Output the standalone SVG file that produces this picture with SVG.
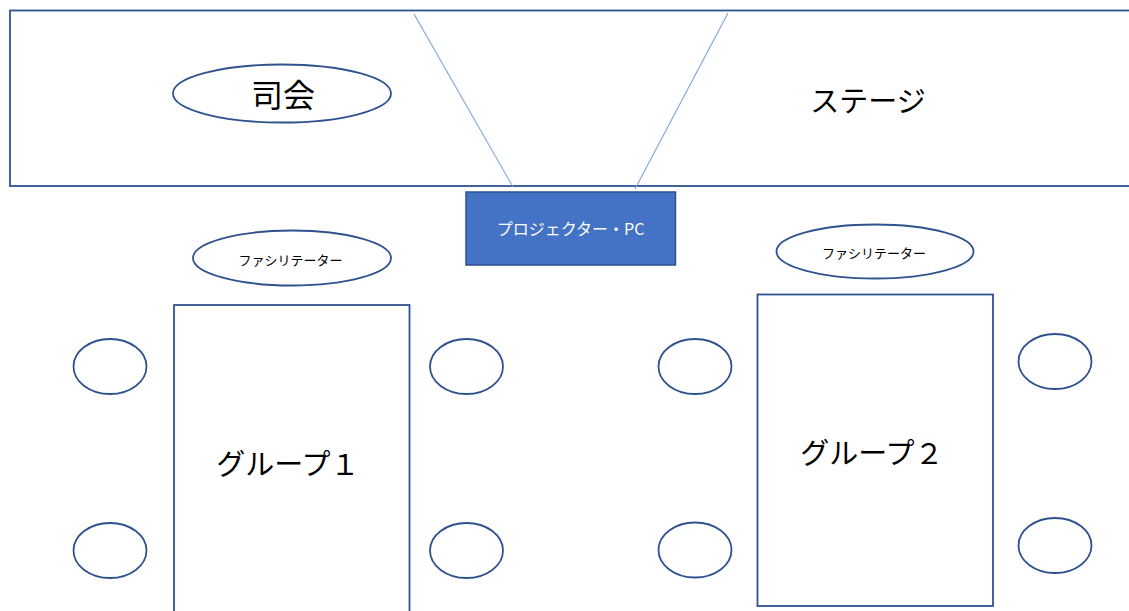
<svg xmlns="http://www.w3.org/2000/svg" width="1129" height="611" viewBox="0 0 1129 611">
<style>
.ol{fill:#fff;stroke:#2F528F;stroke-width:1.8}
.seat{fill:#fff;stroke:#2F528F;stroke-width:1.8}
.t{font-family:"Noto Sans CJK JP","Noto Sans",sans-serif;fill:#000;text-anchor:middle;dominant-baseline:central}
.proj{stroke:#7FA2DC;stroke-width:1.1;fill:none}
</style>
<rect width="1129" height="611" fill="#fff"/>
<g id="stage">
<rect class="ol" x="10" y="10.5" width="1130" height="175.5"/>
<text class="t" x="868" y="99" font-size="29">ステージ</text>
</g>
<g id="connectors">
<line class="proj" x1="414" y1="14" x2="513" y2="187"/>
<line class="proj" x1="728" y1="13" x2="635" y2="189"/>
</g>
<g id="mc">
<ellipse class="ol" cx="282" cy="93.5" rx="109" ry="29"/>
<text class="t" x="283" y="93" font-size="32">司会</text>
</g>
<g id="projector">
<rect x="466" y="192" width="209.5" height="73" fill="#4472C4" stroke="#2F528F" stroke-width="1.5"/>
<text class="t" x="570.5" y="227.5" font-size="16" fill="#fff" style="fill:#fff">プロジェクター・PC</text>
</g>
<g id="facilitator1">
<ellipse class="ol" cx="292" cy="258" rx="99" ry="27.5"/>
<text class="t" x="290.5" y="259" font-size="13">ファシリテーター</text>
</g>
<g id="facilitator2">
<ellipse class="ol" cx="875" cy="251.5" rx="98.5" ry="27"/>
<text class="t" x="874" y="252.5" font-size="13">ファシリテーター</text>
</g>
<g id="group1">
<rect class="ol" x="174" y="305" width="235.5" height="330"/>
<text class="t" x="288" y="462" font-size="29">グループ１</text>
</g>
<g id="group2">
<rect class="ol" x="757.5" y="294.5" width="235.5" height="311.5"/>
<text class="t" x="872" y="451" font-size="29">グループ２</text>
</g>
<g id="seats1">
<ellipse class="seat" cx="110" cy="366.5" rx="36.5" ry="27.5"/>
<ellipse class="seat" cx="110" cy="550.5" rx="36.5" ry="27.5"/>
<ellipse class="seat" cx="466.5" cy="366.5" rx="36.5" ry="27.5"/>
<ellipse class="seat" cx="466.5" cy="550.5" rx="36.5" ry="27.5"/>
</g>
<g id="seats2">
<ellipse class="seat" cx="695" cy="366.5" rx="36.5" ry="27.5"/>
<ellipse class="seat" cx="695" cy="550" rx="36.5" ry="27.5"/>
<ellipse class="seat" cx="1055" cy="361.5" rx="36.5" ry="27.5"/>
<ellipse class="seat" cx="1055" cy="545.5" rx="36.5" ry="27.5"/>
</g>
</svg>
